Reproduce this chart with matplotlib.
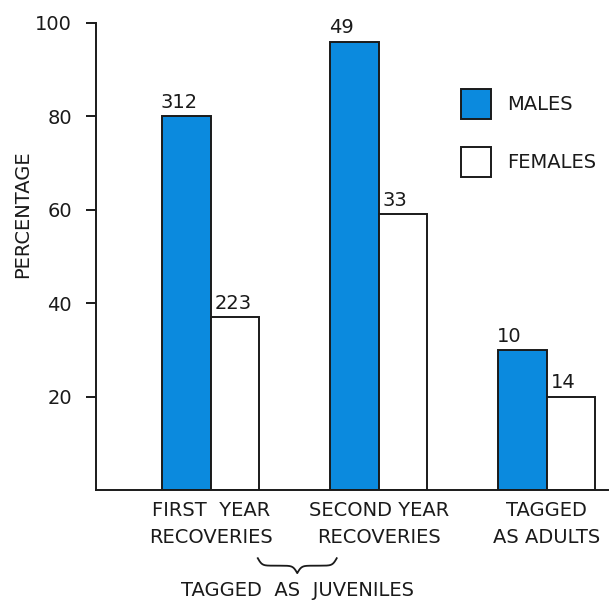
# Recovery percentages of tagged birds, males vs females
import numpy as np
import matplotlib.pyplot as plt
from matplotlib.patches import Rectangle

# Data
groups = ["FIRST  YEAR\nRECOVERIES", "SECOND YEAR\nRECOVERIES", "TAGGED\nAS ADULTS"]
males_pct = [80, 96, 30]
females_pct = [37, 59, 20]
males_n = [312, 49, 10]
females_n = [223, 33, 14]
y_ticks = [20, 40, 60, 80, 100]
legend_labels = ["MALES", "FEMALES"]

blue = "#0b8ade"
ink = "#1a1a1a"
fs = 14

plt.rcParams["font.family"] = ["DejaVu Sans"]

fig = plt.figure(figsize=(6.1, 6.0), dpi=100)
ax = fig.add_axes([0.1566, 0.1833, 0.8401, 0.7784])

x = np.arange(len(groups))
w = 0.29

bm = ax.bar(x - w / 2, males_pct, w, color=blue, edgecolor=ink, linewidth=1.4)
bf = ax.bar(x + w / 2, females_pct, w, color="white", edgecolor=ink, linewidth=1.4)

# Sample sizes above each bar, left aligned on the bar edge
for rect, n in zip(bm, males_n):
    ax.annotate(str(n), (rect.get_x(), rect.get_height()), xytext=(-1, 3),
                textcoords="offset points", ha="left", va="bottom",
                fontsize=fs, color=ink, annotation_clip=False)
for rect, n in zip(bf, females_n):
    ax.annotate(str(n), (rect.get_x(), rect.get_height()), xytext=(3, 3),
                textcoords="offset points", ha="left", va="bottom",
                fontsize=fs, color=ink, annotation_clip=False)

# Axes look
ax.set_xlim(-0.686, 2.365)
ax.set_ylim(0, 100)
ax.spines["top"].set_visible(False)
ax.spines["right"].set_visible(False)
for s in ["left", "bottom"]:
    ax.spines[s].set_linewidth(1.4)
    ax.spines[s].set_color(ink)
ax.set_yticks(y_ticks)
ax.set_yticklabels([str(t) for t in y_ticks])
ax.tick_params(axis="y", length=7, width=1.4, pad=10, labelsize=fs, colors=ink)
ax.set_xticks(x)
ax.set_xticklabels(groups, linespacing=1.55)
ax.tick_params(axis="x", length=0, pad=8, labelsize=fs, colors=ink)
ax.set_ylabel("PERCENTAGE", fontsize=fs, color=ink)
ax.yaxis.set_label_coords(-0.124, 0.59)

# Curly brace under the two juvenile groups
mid = (x[0] + x[1]) / 2 + 0.015
half = 0.235
beta = 80.0
xs = np.linspace(mid - half, mid, 200)
yh = 1 / (1 + np.exp(-beta * (xs - xs[0]))) + 1 / (1 + np.exp(-beta * (xs - xs[-1])))
bx = np.concatenate((xs, 2 * mid - xs[-2::-1]))
by = np.concatenate((yh, yh[-2::-1]))
by = -0.146 - (by - 0.5) * 0.032
ax.plot(bx, by, color=ink, lw=1.3, transform=ax.get_xaxis_transform(), clip_on=False)
ax.text(mid, -0.216, "TAGGED  AS  JUVENILES", ha="center", va="center",
        fontsize=fs, color=ink, transform=ax.get_xaxis_transform())

# Legend: squares and labels in axes fractions
for i, (lab, fc) in enumerate(zip(legend_labels, [blue, "white"])):
    yb = 0.7944 - i * 0.1242
    ax.add_patch(Rectangle((0.7126, yb), 0.0585, 0.0642, facecolor=fc, edgecolor=ink,
                           linewidth=1.4, transform=ax.transAxes, clip_on=False))
    ax.text(0.803, yb + 0.0321, lab, ha="left", va="center", fontsize=fs,
            color=ink, transform=ax.transAxes)

fig.savefig("out.png", dpi=100)
